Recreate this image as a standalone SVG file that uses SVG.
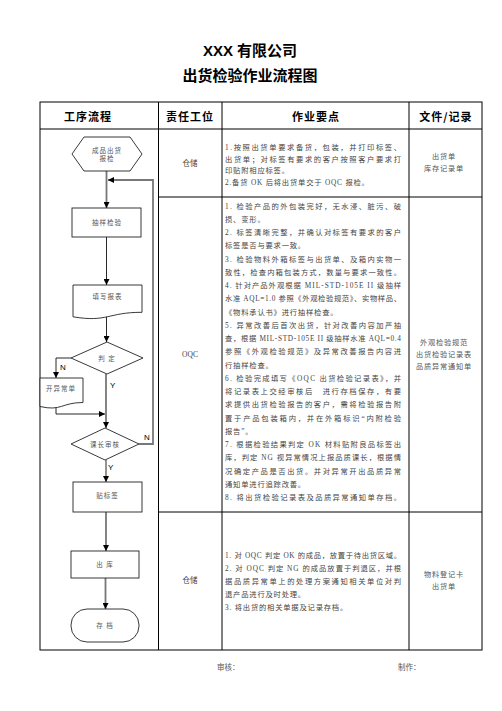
<svg xmlns="http://www.w3.org/2000/svg" width="502" height="711" viewBox="0 0 502 711">
<style>
.title{font-family:"Liberation Sans","Noto Sans CJK SC",sans-serif;font-weight:bold;font-size:15px;fill:#000;text-anchor:middle}
.hd{font-family:"Noto Sans CJK SC",sans-serif;font-weight:bold;font-size:11px;fill:#000;text-anchor:middle;letter-spacing:1px}
.tb{fill:none;stroke:#000;stroke-width:1}
.body{font-family:"Liberation Serif","Noto Sans CJK SC",serif;font-size:7.3px;fill:#444}
.sh{letter-spacing:0.8px}
.c2{font-family:"Liberation Serif","Noto Sans CJK SC",serif;font-size:7.5px;fill:#444;text-anchor:middle}
.c4{font-family:"Noto Sans CJK SC",sans-serif;font-size:7.2px;fill:#555;text-anchor:middle;letter-spacing:0.8px}
.lbl{font-family:"Noto Sans CJK SC",sans-serif;font-size:6.5px;fill:#555;text-anchor:middle;letter-spacing:1px}
.yn{font-family:"Liberation Sans",sans-serif;font-size:8px;fill:#000}
.shape{fill:#fff;stroke:#222;stroke-width:0.9}
.thick{fill:none;stroke:#777;stroke-width:1.8}
.thin{fill:none;stroke:#111;stroke-width:0.9}
.foot{font-family:"Noto Sans CJK SC",sans-serif;font-size:7.5px;fill:#555}
</style>
<defs>
<marker id="ah" markerUnits="userSpaceOnUse" markerWidth="6" markerHeight="6" viewBox="0 0 6 6" refX="6" refY="3" orient="auto">
<path d="M0,0 L6,3 L0,6 Z" fill="#000"/>
</marker>
</defs>
<rect width="502" height="711" fill="#fff"/>

<text class="title" x="250" y="56">XXX 有限公司</text>
<text class="title" x="250" y="81" font-size="14">出货检验作业流程图</text>

<g id="table">
<rect class="tb" x="40" y="102" width="442" height="548" stroke-width="1.2"/>
<line class="tb" x1="40" y1="129" x2="482" y2="129"/>
<line class="tb" x1="158.5" y1="102" x2="158.5" y2="650"/>
<line class="tb" x1="222" y1="102" x2="222" y2="650"/>
<line class="tb" x1="409" y1="102" x2="409" y2="650"/>
<line class="tb" x1="158.5" y1="197" x2="482" y2="197"/>
<line class="tb" x1="158.5" y1="512" x2="482" y2="512"/>
<text class="hd" x="88" y="121">工序流程</text>
<text class="hd" x="190" y="121">责任工位</text>
<text class="hd" x="316" y="121">作业要点</text>
<text class="hd" x="446" y="121">文件/记录</text>
</g>

<g id="col2">
<text class="c2" x="190" y="165.5">仓储</text>
<text class="c2" x="190" y="357">OQC</text>
<text class="c2" x="190" y="583">仓储</text>
</g>

<g id="col3" class="body">
<text x="225" y="150" textLength="176" lengthAdjust="spacing">1.按照出货单要求备货，包装，并打印标签、</text>
<text x="225" y="161.5" textLength="176" lengthAdjust="spacing">出货单；对标签有要求的客户按照客户要求打</text>
<text x="225" y="173" class="sh">印贴附相应标签。</text>
<text x="225" y="184.5" class="sh">2.备货 OK 后将出货单交于 OQC 报检。</text>

<text x="225" y="208.5" textLength="176" lengthAdjust="spacing">1. 检验产品的外包装完好，无水浸、脏污、破</text>
<text x="225" y="221.75" class="sh">损、变形。</text>
<text x="225" y="235" textLength="176" lengthAdjust="spacing">2. 标签清晰完整，并确认对标签有要求的客户</text>
<text x="225" y="248.25" class="sh">标签是否与要求一致。</text>
<text x="225" y="261.5" textLength="176" lengthAdjust="spacing">3. 检验物料外箱标签与出货单、及箱内实物一</text>
<text x="225" y="274.75" textLength="176" lengthAdjust="spacing">致性，检查内箱包装方式，数量与要求一致性。</text>
<text x="225" y="288" textLength="176" lengthAdjust="spacing">4. 针对产品外观根据 MIL-STD-105E II 级抽样</text>
<text x="225" y="301.25" textLength="176" lengthAdjust="spacing">水准 AQL=1.0 参照《外观检验规范》、实物样品、</text>
<text x="225" y="314.5" class="sh">《物料承认书》进行抽样检查。</text>
<text x="225" y="327.75" textLength="176" lengthAdjust="spacing">5. 异常改善后首次出货，针对改善内容加严抽</text>
<text x="225" y="341" textLength="176" lengthAdjust="spacing">查，根据 MIL-STD-105E II 级抽样水准 AQL=0.4</text>
<text x="225" y="354.25" textLength="176" lengthAdjust="spacing">参照《外观检验规范》及异常改善报告内容进</text>
<text x="225" y="367.5" class="sh">行抽样检查。</text>
<text x="225" y="380.75" textLength="176" lengthAdjust="spacing">6. 检验完成填写《OQC 出货检验记录表》，并</text>
<text x="225" y="394" textLength="176" lengthAdjust="spacing">将记录表上交经审核后　进行存档保存，有要</text>
<text x="225" y="407.25" textLength="176" lengthAdjust="spacing">求提供出货检验报告的客户，需将检验报告附</text>
<text x="225" y="420.5" textLength="176" lengthAdjust="spacing">置于产品包装箱内，并在外箱标识“内附检验</text>
<text x="225" y="433.75" class="sh">报告”。</text>
<text x="225" y="447" textLength="176" lengthAdjust="spacing">7. 根据检验结果判定 OK 材料贴附良品标签出</text>
<text x="225" y="460.25" textLength="176" lengthAdjust="spacing">库，判定 NG 视异常情况上报品质课长，根据情</text>
<text x="225" y="473.5" textLength="176" lengthAdjust="spacing">况确定产品是否出货。并对异常开出品质异常</text>
<text x="225" y="486.75" class="sh">通知单进行追踪改善。</text>
<text x="225" y="500" textLength="176" lengthAdjust="spacing">8. 将出货检验记录表及品质异常通知单存档。</text>

<text x="225" y="557.5" textLength="176" lengthAdjust="spacing">1. 对 OQC 判定 OK 的成品，放置于待出货区域。</text>
<text x="225" y="570.5" textLength="176" lengthAdjust="spacing">2. 对 OQC 判定 NG 的成品放置于判退区，并根</text>
<text x="225" y="583.5" textLength="176" lengthAdjust="spacing">据品质异常单上的处理方案通知相关单位对判</text>
<text x="225" y="596.5" class="sh">退产品进行及时处理。</text>
<text x="225" y="609.5" class="sh">3. 将出货的相关单据及记录存档。</text>
</g>

<g id="col4" class="c4">
<text x="444" y="159">出货单</text>
<text x="444" y="171">库存记录单</text>
<text x="444" y="345">外观检验规范</text>
<text x="444" y="357">出货检验记录表</text>
<text x="444" y="369">品质异常通知单</text>
<text x="444" y="577">物料登记卡</text>
<text x="444" y="589">出货单</text>
</g>

<g id="connectors">
<line class="thick" x1="106.5" y1="171" x2="106.5" y2="208" marker-end="url(#ah)"/>
<polyline class="thick" points="139,444 153,444 153,180 108,180" marker-end="url(#ah)"/>
<line class="thin" x1="106.5" y1="237" x2="106.5" y2="285" marker-end="url(#ah)"/>
<line class="thin" x1="106.5" y1="316" x2="106.5" y2="342" marker-end="url(#ah)"/>
<line class="thick" x1="106" y1="374" x2="106" y2="428" marker-end="url(#ah)"/>
<polyline class="thin" points="71,358 56,358 56,378" marker-end="url(#ah)"/>
<polyline class="thin" points="56,404 56,414 105,414" marker-end="url(#ah)"/>
<line class="thin" x1="106" y1="460" x2="106" y2="482" marker-end="url(#ah)"/>
<line class="thick" x1="106" y1="512" x2="106" y2="551" marker-end="url(#ah)"/>
<line class="thick" x1="105.5" y1="578" x2="105.5" y2="609" marker-end="url(#ah)"/>
<text class="yn" x="60" y="370">N</text>
<text class="yn" x="110" y="388">Y</text>
<text class="yn" x="144" y="440">N</text>
<text class="yn" x="108" y="470">Y</text>
</g>

<g id="n-start">
<polygon class="shape" points="72,154 84,137 130,137 142,154 130,171 84,171"/>
<text class="lbl" x="107" y="152.5">成品出货</text>
<text class="lbl" x="107" y="161">报检</text>
</g>
<g id="n-sample">
<rect class="shape" x="72" y="208" width="69" height="29"/>
<text class="lbl" x="107" y="224.5">抽样检验</text>
</g>
<g id="n-report">
<path class="shape" d="M73,285 H142 V312.3 C107.5,312.3 107.5,322.6 73,316.8 Z"/>
<text class="lbl" x="107.5" y="298.5">填写报表</text>
</g>
<g id="n-judge">
<polygon class="shape" points="71,358 107,342 143,358 107,374"/>
<text class="lbl" x="107" y="360.5">判 定</text>
</g>
<g id="n-abnormal">
<path class="shape" d="M40,378 H83 V402.5 C61.5,402.5 61.5,411.5 40,406.5 Z"/>
<text class="lbl" x="61" y="391">开异常单</text>
</g>
<g id="n-review">
<polygon class="shape" points="71,444 105,428 139,444 105,460"/>
<text class="lbl" x="105" y="446.5">课长审核</text>
</g>
<g id="n-label">
<rect class="shape" x="73" y="482" width="69" height="30"/>
<text class="lbl" x="107.5" y="497.5">贴标签</text>
</g>
<g id="n-out">
<rect class="shape" x="71" y="551" width="68" height="27"/>
<text class="lbl" x="105" y="567">出 库</text>
</g>
<g id="n-archive">
<rect class="shape" x="71" y="609" width="68" height="33" rx="16" ry="16"/>
<text class="lbl" x="105" y="628">存 档</text>
</g>

<g id="footer">
<text class="foot" x="217" y="670">审核：</text>
<text class="foot" x="398" y="670">制作：</text>
</g>
</svg>
